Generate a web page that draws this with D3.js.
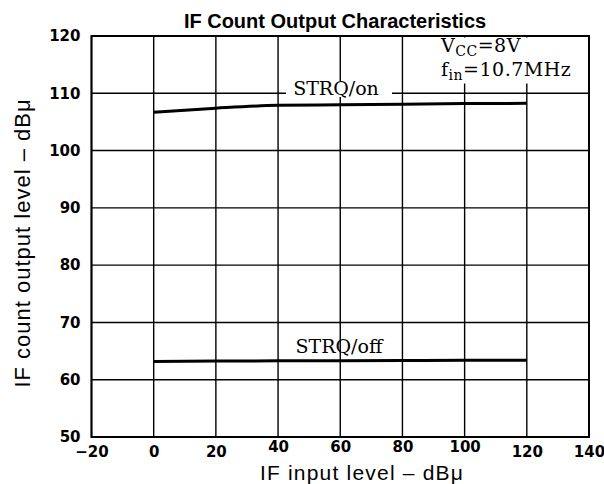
<!DOCTYPE html>
<html><head><meta charset="utf-8">
<script src="https://cdn.jsdelivr.net/npm/d3@7"></script>
<style>body{margin:0;background:#fff}svg{display:block}</style>
</head><body>
<script>
const inputLevels = [0, 20, 40, 60, 80, 100, 120];
const strqOn = [106.7, 107.4, 107.9, 108.0, 108.1, 108.2, 108.25];
const strqOff = [63.2, 63.25, 63.3, 63.3, 63.35, 63.4, 63.4];
const xTicks = [-20, 0, 20, 40, 60, 80, 100, 120, 140];
const yTicks = [50, 60, 70, 80, 90, 100, 110, 120];

const W = 604, H = 484;
const svg = d3.select("body").append("svg").attr("width", W).attr("height", H);
const x = d3.scaleLinear().domain([-20, 140]).range([91.5, 589]);
const y = d3.scaleLinear().domain([50, 120]).range([437, 36]);

// grid
const g = svg.append("g");
g.selectAll(".vg").data(xTicks).join("line")
  .attr("x1", d => x(d)).attr("x2", d => x(d)).attr("y1", y(50)).attr("y2", y(120))
  .attr("stroke", "#000").attr("stroke-width", 1.4);
g.selectAll(".hg").data(yTicks).join("line")
  .attr("y1", d => y(d)).attr("y2", d => y(d)).attr("x1", x(-20)).attr("x2", x(140))
  .attr("stroke", "#000").attr("stroke-width", 1.4);
g.append("rect").attr("x", x(-20)).attr("y", y(120)).attr("width", x(140) - x(-20)).attr("height", y(50) - y(120))
  .attr("fill", "none").attr("stroke", "#000").attr("stroke-width", 2);

// axes (labels only)
const xAxis = d3.axisBottom(x).tickValues(xTicks).tickSize(0).tickPadding(9)
  .tickFormat(d => d < 0 ? "\u2212" + Math.abs(d) : d);
const xa = svg.append("g").attr("transform", `translate(0,${y(50)})`).call(xAxis);
const yAxis = d3.axisLeft(y).tickValues(yTicks).tickSize(0).tickPadding(11);
const ya = svg.append("g").attr("transform", `translate(${x(-20)},0)`).call(yAxis);
[xa, ya].forEach(a => {
  a.select(".domain").remove();
  a.selectAll("text").attr("font-family", "DejaVu Sans").attr("font-weight", "bold")
    .attr("font-size", 15).attr("fill", "#000");
});
// middle x labels sit a little higher, clear of the axis title
xa.selectAll(".tick").filter(d => d >= 40 && d <= 100).select("text").attr("y", 4);

// lines
const line = d3.line().x(d => x(d[0])).y(d => y(d[1])).curve(d3.curveMonotoneX);
svg.append("path").datum(inputLevels.map((v, i) => [v, strqOn[i]]))
  .attr("d", line).attr("fill", "none").attr("stroke", "#000").attr("stroke-width", 3);
svg.append("path").datum(inputLevels.map((v, i) => [v, strqOff[i]]))
  .attr("d", line).attr("fill", "none").attr("stroke", "#000").attr("stroke-width", 3);

// labels
const serif = "DejaVu Serif";
svg.append("rect").attr("x", 286).attr("y", 81).attr("width", 106).attr("height", 16).attr("fill", "#fff");
svg.append("text").attr("x", 336).attr("y", 95).attr("text-anchor", "middle")
  .attr("font-family", serif).attr("font-size", 19).text("STRQ/on");
svg.append("text").attr("x", 339).attr("y", 353).attr("text-anchor", "middle")
  .attr("font-family", serif).attr("font-size", 19).text("STRQ/off");

svg.append("rect").attr("x", 437).attr("y", 37.5).attr("width", 150.5).attr("height", 46).attr("fill", "#fff");
const t1 = svg.append("text").attr("x", 441).attr("y", 52).attr("font-family", serif).attr("font-size", 19)
  .attr("letter-spacing", 0.5);
t1.append("tspan").text("V");
t1.append("tspan").attr("font-size", 14).attr("dy", 4).text("CC");
t1.append("tspan").attr("dy", -4).text("=8V");
const t2 = svg.append("text").attr("x", 441).attr("y", 76).attr("font-family", serif).attr("font-size", 19)
  .attr("letter-spacing", 0.5);
t2.append("tspan").text("f");
t2.append("tspan").attr("font-size", 14).attr("dy", 4).text("in");
t2.append("tspan").attr("dy", -4).text("=10.7MHz");

// titles
svg.append("text").attr("x", 335).attr("y", 28).attr("text-anchor", "middle")
  .attr("font-family", "Liberation Sans").attr("font-weight", "bold").attr("font-size", 20)
  .text("IF Count Output Characteristics");
svg.append("text").attr("x", 362).attr("y", 480).attr("text-anchor", "middle")
  .attr("font-family", "Liberation Sans").attr("font-size", 21).attr("letter-spacing", 1.2)
  .text("IF input level \u2013 dB\u03bc");
svg.append("text").attr("transform", "translate(30,243) rotate(-90)").attr("text-anchor", "middle")
  .attr("font-family", "Liberation Sans").attr("font-size", 22).attr("letter-spacing", 1)
  .text("IF count output level \u2013 dB\u03bc");
</script>
</body></html>
